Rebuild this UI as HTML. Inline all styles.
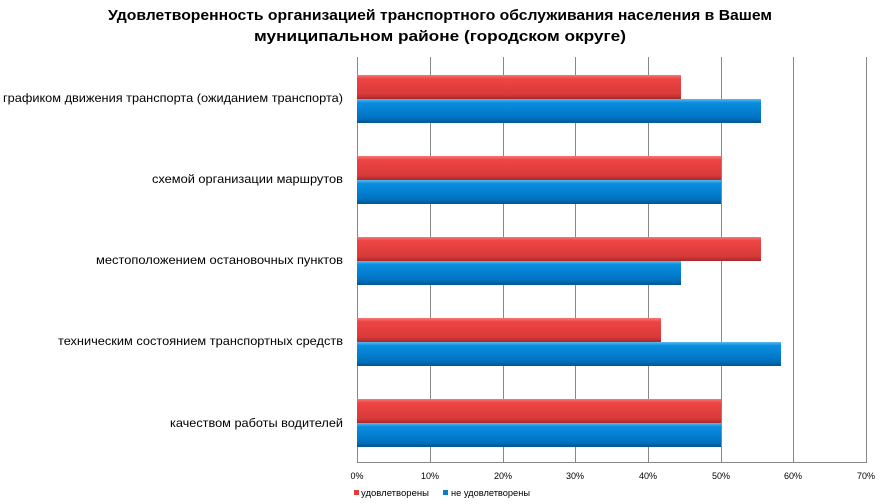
<!DOCTYPE html>
<html><head><meta charset="utf-8"><style>
html,body{margin:0;padding:0;background:#fff;}
svg{display:block;}
text{font-family:"Liberation Sans","DejaVu Sans",sans-serif;}
</style></head><body>
<svg width="881" height="504" viewBox="0 0 881 504" xmlns="http://www.w3.org/2000/svg">
<defs>
<linearGradient id="r" x1="0" y1="0" x2="0" y2="1">
<stop offset="0" stop-color="#f47a7a"/><stop offset="0.15" stop-color="#f04444"/><stop offset="0.8" stop-color="#d83a3a"/><stop offset="1" stop-color="#a82828"/>
</linearGradient>
<linearGradient id="b" x1="0" y1="0" x2="0" y2="1">
<stop offset="0" stop-color="#5cb8f0"/><stop offset="0.15" stop-color="#0a8ee0"/><stop offset="0.8" stop-color="#0072c0"/><stop offset="1" stop-color="#005590"/>
</linearGradient>
</defs>
<text x="440" y="20" text-anchor="middle" font-size="15" font-weight="bold" textLength="664" lengthAdjust="spacingAndGlyphs">Удовлетворенность организацией транспортного обслуживания населения в Вашем</text>
<text x="440" y="41" text-anchor="middle" font-size="15" font-weight="bold" textLength="372" lengthAdjust="spacingAndGlyphs">муниципальном районе (городском округе)</text>
<g stroke="#888" stroke-width="1">
<line x1="430.5" y1="57" x2="430.5" y2="462"/>
<line x1="503.5" y1="57" x2="503.5" y2="462"/>
<line x1="575.5" y1="57" x2="575.5" y2="462"/>
<line x1="648.5" y1="57" x2="648.5" y2="462"/>
<line x1="721.5" y1="57" x2="721.5" y2="462"/>
<line x1="793.5" y1="57" x2="793.5" y2="462"/>
<line x1="866.5" y1="57" x2="866.5" y2="462"/>
<line x1="357.5" y1="57" x2="357.5" y2="462"/>
<line x1="357" y1="462.5" x2="867" y2="462.5"/>
</g>
<g>
<rect x="357" y="75" width="324" height="24" fill="url(#r)"/>
<rect x="357" y="99" width="404" height="24" fill="url(#b)"/>
<rect x="357" y="156" width="364" height="24" fill="url(#r)"/>
<rect x="357" y="180" width="364" height="24" fill="url(#b)"/>
<rect x="357" y="237" width="404" height="24" fill="url(#r)"/>
<rect x="357" y="261" width="324" height="24" fill="url(#b)"/>
<rect x="357" y="318" width="304" height="24" fill="url(#r)"/>
<rect x="357" y="342" width="424" height="24" fill="url(#b)"/>
<rect x="357" y="399" width="364" height="24" fill="url(#r)"/>
<rect x="357" y="423" width="364" height="24" fill="url(#b)"/>
</g>
<g font-size="12" fill="#000" text-anchor="end">
<text x="343" y="102" textLength="340" lengthAdjust="spacingAndGlyphs">графиком движения транспорта  (ожиданием транспорта)</text>
<text x="343" y="183" textLength="191" lengthAdjust="spacingAndGlyphs">схемой организации маршрутов</text>
<text x="343" y="264" textLength="247" lengthAdjust="spacingAndGlyphs">местоположением  остановочных  пунктов</text>
<text x="343" y="345" textLength="285" lengthAdjust="spacingAndGlyphs">техническим состоянием  транспортных  средств</text>
<text x="343" y="427" textLength="173" lengthAdjust="spacingAndGlyphs">качеством работы водителей</text>
</g>
<g font-size="9" fill="#000" text-anchor="middle">
<text x="357" y="479">0%</text><text x="430" y="479">10%</text><text x="503" y="479">20%</text><text x="575" y="479">30%</text><text x="648" y="479">40%</text><text x="721" y="479">50%</text><text x="793" y="479">60%</text><text x="866" y="479">70%</text>
</g>
<rect x="354" y="490" width="5" height="5" fill="#e03c3c"/>
<text x="361" y="496" font-size="9" textLength="68" lengthAdjust="spacingAndGlyphs">удовлетворены</text>
<rect x="443" y="490" width="5" height="5" fill="#0a7ccc"/>
<text x="451" y="496" font-size="9" textLength="79" lengthAdjust="spacingAndGlyphs">не удовлетворены</text>
</svg>
</body></html>
